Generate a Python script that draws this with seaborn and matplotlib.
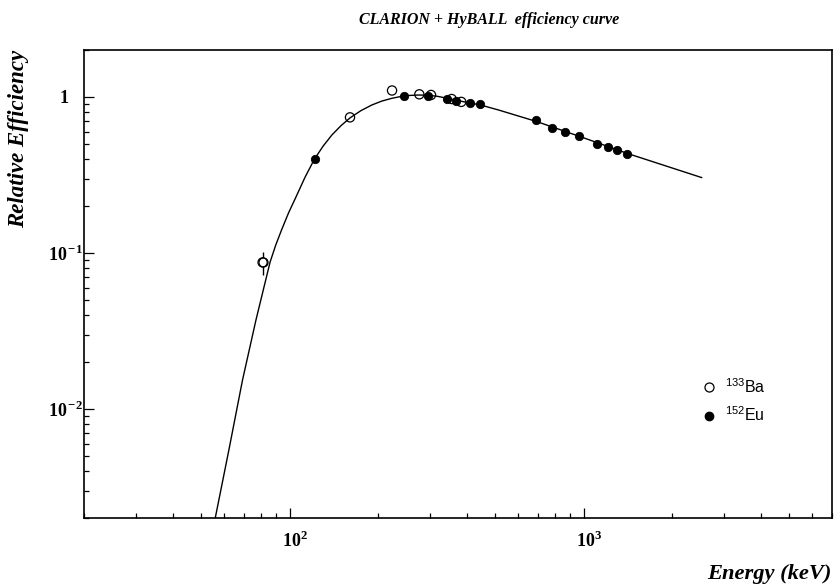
import math
import matplotlib
matplotlib.use("Agg")
import matplotlib.pyplot as plt
import seaborn as sns
from matplotlib.ticker import LogLocator, FuncFormatter, NullFormatter
from matplotlib.lines import Line2D

# 133Ba calibration points (keV, relative efficiency, uncertainty)
ba_energy = [81.0, 160.6, 223.2, 276.4, 302.9, 356.0, 383.8]
ba_eff = [0.087, 0.74, 1.10, 1.04, 1.03, 0.97, 0.93]
ba_err = [0.0145, 0.0, 0.0, 0.0, 0.0, 0.0, 0.0]

# 152Eu calibration points (keV, relative efficiency)
eu_energy = [121.8, 244.7, 295.9, 344.3, 367.8, 411.1, 444.0,
             688.7, 778.9, 867.4, 964.1, 1112.1, 1212.9, 1299.1, 1408.0]
eu_eff = [0.40, 1.02, 1.01, 0.97, 0.94, 0.91, 0.90,
          0.71, 0.635, 0.60, 0.56, 0.50, 0.48, 0.455, 0.43]

# Efficiency fit curve
curve_energy = [55.9, 62.2, 69.2, 76.9, 85.9, 89.8, 93.9, 99.2, 104.8, 112.9,
                121.6, 130.2, 139.3, 149.7, 160.9, 175.1, 190.5, 206.0, 222.8,
                237.9, 254.0, 274.7, 297.0, 320.0, 344.6, 387.6, 446.4, 514.0,
                692.0, 969.0, 1423.0, 2526.0]
curve_eff = [0.0020, 0.00546, 0.0153, 0.0372, 0.0875, 0.1125, 0.140, 0.1803,
             0.225, 0.3055, 0.400, 0.485, 0.570, 0.655, 0.736, 0.818, 0.888,
             0.941, 0.980, 1.005, 1.022, 1.029, 1.026, 1.008, 0.980, 0.935,
             0.888, 0.825, 0.696, 0.559, 0.432, 0.304]

x_limits = (20, 7000)
y_limits = (0.002, 2)

sns.set_theme(style="white")
plt.rcParams.update({
    "font.family": "Liberation Serif",
    "font.weight": "bold",
    "mathtext.fontset": "custom",
    "mathtext.rm": "Liberation Sans:weight=normal:style=normal",
    "mathtext.it": "Liberation Sans:weight=normal:style=italic",
    "mathtext.bf": "Liberation Serif:weight=bold:style=normal",
    "text.color": "black",
    "axes.labelcolor": "black",
    "xtick.color": "black",
    "ytick.color": "black",
    "axes.edgecolor": "black",
    "axes.linewidth": 1.2,
})

W, H = 837, 587
fig = plt.figure(figsize=(W / 100, H / 100), dpi=100)
ax = fig.add_axes([84 / W, 69 / H, 748 / W, 468 / H])
ax.set_xscale("log")
ax.set_yscale("log")

sns.lineplot(x=curve_energy, y=curve_eff, ax=ax, color="black", linewidth=1.0,
             estimator=None, sort=False, zorder=2)

sns.scatterplot(x=eu_energy, y=eu_eff, ax=ax, marker="o", color="black",
                edgecolor="black", linewidth=0.6, s=36, zorder=3)

err_idx = [i for i, e in enumerate(ba_err) if e > 0]
ax.errorbar([ba_energy[i] for i in err_idx], [ba_eff[i] for i in err_idx],
            yerr=[ba_err[i] for i in err_idx], fmt="o", mfc="white", mec="black",
            ecolor="black", elinewidth=1.0, capsize=0, markersize=6.5,
            markeredgewidth=0.9, zorder=3.5)
sns.scatterplot(x=ba_energy, y=ba_eff, ax=ax, marker="o", facecolors="none",
                edgecolor="black", linewidth=0.9, s=44, zorder=4)

ax.set_xlim(*x_limits)
ax.set_ylim(*y_limits)

for s in ax.spines.values():
    s.set_visible(True)
    s.set_color("black")
    s.set_linewidth(1.2)

ax.xaxis.set_major_locator(LogLocator(base=10))
ax.xaxis.set_minor_locator(LogLocator(base=10, subs=range(2, 10)))
ax.yaxis.set_major_locator(LogLocator(base=10))
ax.yaxis.set_minor_locator(LogLocator(base=10, subs=range(2, 10)))
ax.xaxis.set_minor_formatter(NullFormatter())
ax.yaxis.set_minor_formatter(NullFormatter())


def y_decade_label(v, pos):
    e = int(round(math.log10(v)))
    if e == 0:
        return "1   "
    return r"$\mathbf{10}^{\,\mathbf{%d}}$" % e


def x_decade_label(v, pos):
    e = int(round(math.log10(v)))
    return r"$\enspace\;\mathbf{10}^{\mathbf{%d}}$" % e


ax.xaxis.set_major_formatter(FuncFormatter(x_decade_label))
ax.yaxis.set_major_formatter(FuncFormatter(y_decade_label))

ax.tick_params(which="both", direction="in", top=False, right=False,
               bottom=True, left=True, color="black", width=0.9)
ax.tick_params(which="major", length=7.5, labelsize=13)
ax.tick_params(which="minor", length=3.5)
ax.tick_params(axis="x", which="major", pad=9)
ax.tick_params(axis="y", which="major", pad=1)
ax.grid(False)

serif_bi = dict(family="Liberation Serif", weight="bold", style="italic",
                color="black")
fig.text(489 / W, 1 - 20 / H, "CLARION + HyBALL  efficiency curve",
         ha="center", va="center", fontsize=11.5, **serif_bi)
fig.text(19 / W, 1 - 50 / H, "Relative Efficiency", rotation=90,
         ha="center", va="top", fontsize=16.5, **serif_bi)
fig.text(832 / W, 1 - 574 / H, "Energy (keV)", ha="right", va="center",
         fontsize=16.2, **serif_bi)

handles = [
    Line2D([], [], linestyle="none", marker="o", markersize=6.5,
           markerfacecolor="none", markeredgecolor="black", markeredgewidth=0.9),
    Line2D([], [], linestyle="none", marker="o", markersize=6,
           markerfacecolor="black", markeredgecolor="black"),
]
leg = ax.legend(handles, [r"$^{133}$Ba", r"$^{152}$Eu"], loc="upper left",
                bbox_to_anchor=(0.805, 0.332), frameon=False, handlelength=1.0,
                handletextpad=0.55, labelspacing=0.62,
                prop=dict(family="Liberation Sans", weight="normal", size=11.5))

fig.savefig("out.png", dpi=100, facecolor="white")
